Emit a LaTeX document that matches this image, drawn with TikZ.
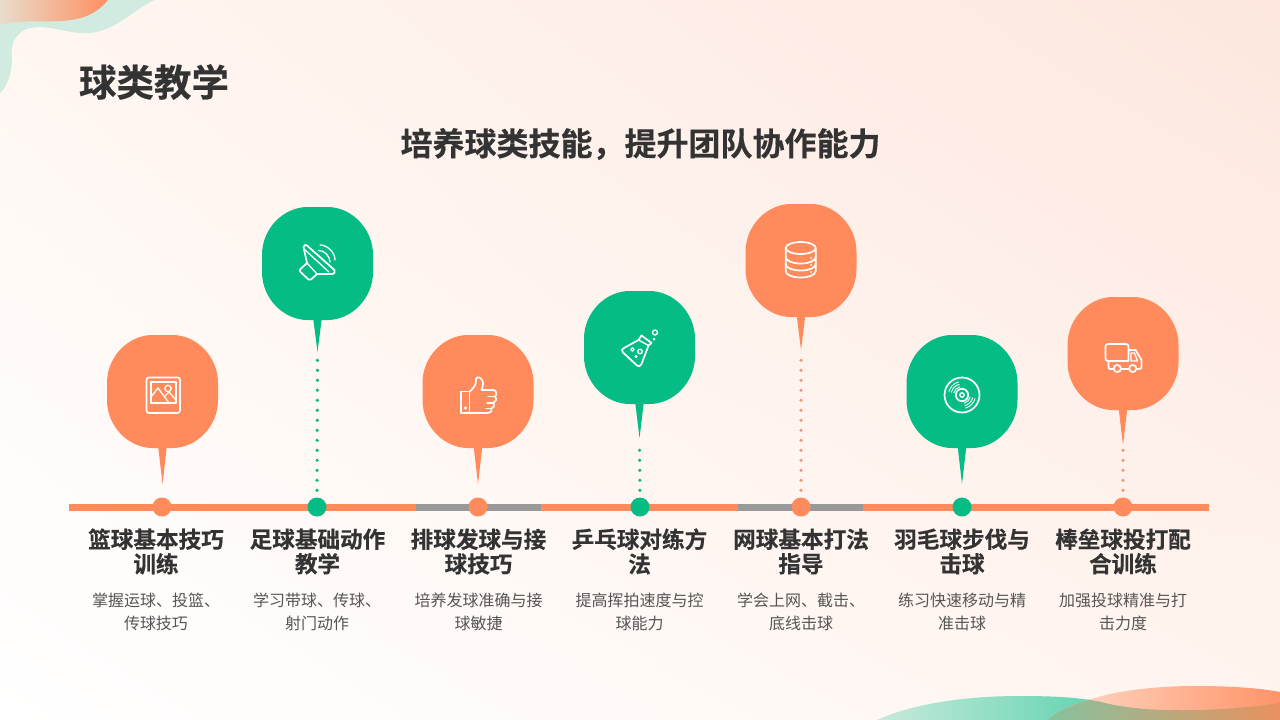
\documentclass[tikz,border=0pt]{standalone}
\usetikzlibrary{shadings}
\usepackage{fontspec}
\setmainfont{Noto Sans CJK SC}
\newfontfamily\cjkbold[FakeBold=0.4]{Noto Sans CJK SC Bold}
\definecolor{ora}{HTML}{FF8A5C}
\definecolor{oradot}{HTML}{EE9A7A}
\definecolor{grn}{HTML}{05BC85}
\definecolor{ink}{HTML}{333333}
\definecolor{desctext}{HTML}{555555}
\definecolor{graybar}{HTML}{999999}
\definecolor{bgTL}{HTML}{FFF6F1}
\definecolor{bgTR}{HTML}{FDE7DE}
\definecolor{bgBL}{HTML}{FFFFFF}
\definecolor{bgBR}{HTML}{FFF4EF}
\definecolor{mint}{HTML}{D2EBE0}
\definecolor{tanL}{HTML}{E8DCCB}
\definecolor{oraR}{HTML}{FF8F60}
\definecolor{gL}{HTML}{C8E9DC}
\definecolor{gR}{HTML}{5CD2AE}
\definecolor{oL}{HTML}{FFDCCB}
\definecolor{oR}{HTML}{FF9468}
\definecolor{mixL}{HTML}{86C29E}
\definecolor{mixR}{HTML}{E8915E}
\tikzset{
  head/.style={font=\cjkbold\fontsize{22.6}{24.6}\selectfont,text=ink,align=center,inner sep=0pt},
  desc/.style={font=\fontsize{16}{23}\selectfont,text=desctext,align=center,inner sep=0pt},
  icon/.style={draw=white,line width=1.7pt,line join=round,line cap=round},
  thin icon/.style={icon,line width=1.3pt},
  stopdot/.style={circle,minimum size=19pt,inner sep=0pt},
  dotline/.style={line width=3.6pt,line cap=round,dash pattern=on 0pt off 10pt,shorten <=7pt,shorten >=3pt},
}
\newcommand{\greenblob}{(877,720) .. controls (910,705) and (960,696) .. (1020,696)
  .. controls (1060,696) and (1085,698) .. (1105,703) .. controls (1130,709) and (1160,711) .. (1200,710)
  .. controls (1235,709) and (1260,706) .. (1280,703) -- (1280,720) -- cycle}
\newcommand{\orangeblob}{(1047,720) .. controls (1060,708) and (1080,702) .. (1095,698)
  .. controls (1120,690) and (1160,686) .. (1195,686) .. controls (1230,686) and (1260,688) .. (1280,692)
  -- (1280,720) -- cycle}
% name, cx, top, tip y, colour
\newcommand{\bubble}[5]{%
  \coordinate (#1tip) at (#2,#4);
  \fill[#5] ({#2-4.5},{#3+110}) -- (#1tip) -- ({#2+4.5},{#3+110}) -- cycle;
  \fill[#5] ({#2-10},#3) .. controls ({#2-33.5},#3) and ({#2-55.5},{#3+21}) .. ({#2-55.5},{#3+48})
    -- ({#2-55.5},{#3+65}) .. controls ({#2-55.5},{#3+92}) and ({#2-33.5},{#3+113}) .. ({#2-10},{#3+113})
    -- ({#2+10},{#3+113}) .. controls ({#2+33.5},{#3+113}) and ({#2+55.5},{#3+92}) .. ({#2+55.5},{#3+65})
    -- ({#2+55.5},{#3+48}) .. controls ({#2+55.5},{#3+21}) and ({#2+33.5},#3) .. ({#2+10},#3) -- cycle;
}
\begin{document}
\begin{tikzpicture}[x=1pt,y=-1pt]
\useasboundingbox (0,0) rectangle (1280,720);
% background
\shade[upper left=bgTL,upper right=bgTR,lower left=bgBL,lower right=bgBR] (0,0) rectangle (1280,720);
% top-left blobs
\fill[mint] (0,0) -- (155,0) .. controls (135,8) and (118,30) .. (90,33)
  .. controls (70,35) and (50,24) .. (30,28) .. controls (15,32) and (10,45) .. (12,58)
  .. controls (12,75) and (6,88) .. (0,93) -- cycle;
\shade[left color=tanL,right color=oraR] (0,0) -- (108,0) .. controls (98,12) and (85,20) .. (60,21)
  .. controls (40,22) and (15,20) .. (0,25) -- cycle;
% bottom-right blobs
\begin{scope}
\clip \greenblob;
\shade[left color=gL,right color=gR] (877,690) rectangle (1110,720);
\end{scope}
\shade[left color=oL,right color=oR] \orangeblob;
\begin{scope}
\clip \orangeblob;
\clip \greenblob;
\shade[left color=mixL,right color=mixR] (1047,690) rectangle (1280,720);
\end{scope}
% titles
\node[font=\cjkbold\fontsize{37.5}{40}\selectfont,text=ink,inner sep=0pt] (title) at (154,82) {球类教学};
\node[font=\cjkbold\fontsize{32}{36}\selectfont,text=ink,inner sep=0pt] (subtitle) at (640.5,144) {培养球类技能，提升团队协作能力};
% timeline
\fill[ora] (69,503.5) rectangle (1209,510.5);
\fill[graybar] (416,503.5) rectangle (541,510.5);
\fill[graybar] (738,503.5) rectangle (863,510.5);
% bubbles
\bubble{a}{162.5}{335}{484}{ora}
\bubble{b}{317.5}{207}{352}{grn}
\bubble{c}{478}{335}{484}{ora}
\bubble{d}{639.5}{291}{438}{grn}
\bubble{e}{801}{204}{350}{ora}
\bubble{f}{962}{335}{484}{grn}
\bubble{g}{1123}{297}{445}{ora}
% stops
\node[stopdot,fill=ora] (sa) at (162,507) {};
\node[stopdot,fill=grn] (sb) at (317,507) {};
\node[stopdot,fill=ora] (sc) at (478,507) {};
\node[stopdot,fill=grn] (sd) at (640,507) {};
\node[stopdot,fill=ora] (se) at (801,507) {};
\node[stopdot,fill=grn] (sf) at (962,507) {};
\node[stopdot,fill=ora] (sg) at (1123,507) {};
% dotted connectors
\draw[dotline,grn] (sb.north) -- (btip);
\draw[dotline,grn] (sd.north) -- (dtip);
\draw[dotline,oradot] (se.north) -- (etip);
\draw[dotline,oradot] (sg.north) -- (gtip);
% labels
\node[head] (ha) at (156,551.5) {篮球基本技巧\\训练};
\node[head] (hb) at (317.5,551.5) {足球基础动作\\教学};
\node[head] (hc) at (478.5,551.5) {排球发球与接\\球技巧};
\node[head] (hd) at (639.5,551.5) {乒乓球对练方\\法};
\node[head] (he) at (801,551.5) {网球基本打法\\指导};
\node[head] (hf) at (962,551.5) {羽毛球步伐与\\击球};
\node[head] (hg) at (1123,551.5) {棒垒球投打配\\合训练};
\node[desc] (da) at (156,611.5) {掌握运球、投篮、\\传球技巧};
\node[desc] (db) at (317,611.5) {学习带球、传球、\\射门动作};
\node[desc] (dc) at (478.5,611.5) {培养发球准确与接\\球敏捷};
\node[desc] (dd) at (639.5,611.5) {提高挥拍速度与控\\球能力};
\node[desc] (de) at (801,611.5) {学会上网、截击、\\底线击球};
\node[desc] (df) at (962,611.5) {练习快速移动与精\\准击球};
\node[desc] (dg) at (1123,611.5) {加强投球精准与打\\击力度};
% icon a: picture
\draw[icon] (146.5,380) .. controls (146.5,378) and (147.5,377.5) .. (149,377.5) -- (177.5,377.5) .. controls (179,377.5) and (180,378) .. (180,380) -- (180,410.5) .. controls (180,412) and (179,413) .. (177.5,413) -- (149,413) .. controls (147.5,413) and (146.5,412) .. (146.5,410.5) -- cycle;
\draw[thin icon] (151,382) rectangle (176,403);
\draw[thin icon] (151,397) -- (158,388) -- (169,403);
\draw[thin icon] (165,396) -- (169,392) -- (176,400);
\draw[thin icon] (168,388.5) circle (3.2);
% icon b: speaker
\draw[icon] (303.5,247) .. controls (304,244.5) and (306,244.5) .. (307,245.5) -- (334.5,270) .. controls (335.5,272) and (334.5,274) .. (332.5,274) -- (317,274)
  -- (311,279.5) .. controls (310,280) and (309.5,280) .. (308.5,279.5) -- (300.5,272) .. controls (299.5,271) and (299.5,270) .. (300.5,269) -- (307,263) -- cycle;
\draw[thin icon] (304,249) -- (329,272);
\draw[thin icon] (307,263) -- (317,274);
\draw[thin icon] (320,245) .. controls (327,245) and (335,252) .. (335,260);
\draw[thin icon] (318.5,250.5) .. controls (324,250) and (330,256) .. (330,262);
% icon c: thumb
\draw[icon] (461,391.5) rectangle (469.5,413);
\draw[icon] (469.5,392) -- (474,387) .. controls (476,384) and (476,381) .. (476,379) .. controls (477,376) and (481,377) .. (482.5,381)
  .. controls (484,384) and (482,388) .. (481.5,390) -- (493,390) .. controls (497,390) and (497,395) .. (495,396.5)
  .. controls (497,399) and (496,402) .. (493.5,403) .. controls (495,405) and (494,408) .. (491.5,408.5)
  .. controls (492,411) and (491,413) .. (488,413) -- (469.5,413);
\draw[thin icon] (488,396.5) -- (495,396.5);
\draw[thin icon] (487,403) -- (493.5,403);
\draw[thin icon] (486,408.5) -- (491.5,408.5);
\draw[thin icon] (465.5,408) circle (1);
% icon d: flask
\draw[icon] (641.5,335.5) -- (651.5,343) -- (648.5,345.5) -- (641.5,364) .. controls (640.5,366.5) and (638.5,367) .. (637,365.5) -- (623,352.5) .. controls (621,350.5) and (622,348.5) .. (624,348) -- (638.5,340) -- cycle;
\draw[thin icon] (638.5,340) -- (648.5,345.5);
\draw[thin icon] (632.5,349.5) circle (1.7);
\draw[thin icon] (640,351.5) circle (2.3);
\draw[thin icon] (636,356.5) circle (1);
\draw[thin icon] (655,332.5) circle (2.5);
\draw[thin icon] (654,339.3) circle (0.7);
% icon e: database
\draw[icon] (800.7,248) ellipse (15 and 6);
\draw[icon] (785.7,248) -- (785.7,271) .. controls (785.7,275) and (793,277.5) .. (800.7,277.5) .. controls (808.4,277.5) and (815.7,275) .. (815.7,271) -- (815.7,248);
\draw[icon] (785.7,257) .. controls (785.7,261) and (793,263.5) .. (800.7,263.5) .. controls (808.4,263.5) and (815.7,261) .. (815.7,257);
\draw[icon] (785.7,264) .. controls (785.7,268) and (793,270.5) .. (800.7,270.5) .. controls (808.4,270.5) and (815.7,268) .. (815.7,264);
\fill[white] (811,258) circle (1) (811,265) circle (1) (811,272) circle (1);
% icon f: disc
\draw[icon] (962,395) circle (17.5);
\draw[icon] (962,395) circle (6.2);
\draw[thin icon] (962,395) circle (2.2);
\foreach \r in {8.5,11,13.5}{
  \draw[icon,line width=.9pt] ({962+\r*cos(195)},{395+\r*sin(195)}) arc[start angle=195,end angle=255,radius=\r];
  \draw[icon,line width=.9pt] ({962+\r*cos(15)},{395+\r*sin(15)}) arc[start angle=15,end angle=75,radius=\r];
}
% icon g: truck
\draw[icon] (1108,344) -- (1126,344) .. controls (1127.5,344) and (1128.5,345) .. (1128.5,346.5) -- (1128.5,361) -- (1108,361) .. controls (1106.5,361) and (1105.5,360) .. (1105.5,358.5) -- (1105.5,346.5) .. controls (1105.5,345) and (1106.5,344) .. (1108,344) -- cycle;
\draw[icon] (1128.5,350) -- (1135.5,350) -- (1141.5,360) -- (1141.5,367) .. controls (1141.5,368.5) and (1140.5,369) .. (1139,369) -- (1136.5,369);
\draw[icon] (1108.5,361) -- (1108.5,367) .. controls (1108.5,368.5) and (1109.5,369) .. (1110,369) -- (1113.5,369);
\draw[icon] (1121,369) -- (1129,369);
\draw[icon] (1117.3,368.5) circle (3.6);
\draw[icon] (1132.7,368.5) circle (3.6);
\draw[thin icon] (1131,353) -- (1134.5,353) -- (1137.5,361) -- (1131,361) -- cycle;
\end{tikzpicture}
\end{document}
